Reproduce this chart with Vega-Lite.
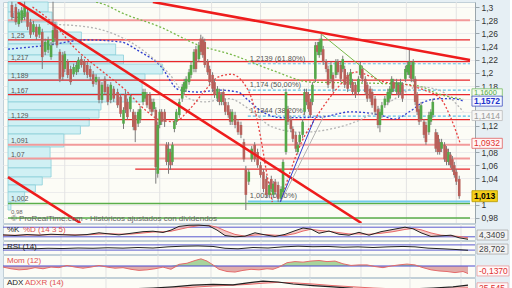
{
"$schema":"https://vega.github.io/schema/vega-lite/v6.json",
"padding":0,
"spacing":1,
"bounds":"flush",
"background":"#e6eff4",
"config":{"view":{"fill":"#fcfcf6","stroke":"#c2d0d8"},"font":"Liberation Sans","text":{"font":"Liberation Sans"}},
"datasets":{
"grid":[{"t":58},{"t":103},{"t":155},{"t":208},{"t":258},{"t":307},{"t":358},{"t":407},{"t":458}],
"vol":[{"hi":1.3076,"lo":1.2924,"vol":41},{"hi":1.2924,"lo":1.2773,"vol":45},{"hi":1.2773,"lo":1.2621,"vol":50},{"hi":1.2621,"lo":1.2439,"vol":75},{"hi":1.2439,"lo":1.2272,"vol":110},{"hi":1.2272,"lo":1.2135,"vol":118},{"hi":1.2135,"lo":1.1984,"vol":158},{"hi":1.1984,"lo":1.1893,"vol":140},{"hi":1.1893,"lo":1.168,"vol":137},{"hi":1.168,"lo":1.1559,"vol":138},{"hi":1.1559,"lo":1.1438,"vol":95},{"hi":1.1438,"lo":1.1316,"vol":93},{"hi":1.1316,"lo":1.1195,"vol":83},{"hi":1.1195,"lo":1.1073,"vol":74},{"hi":1.1073,"lo":1.0876,"vol":57},{"hi":1.0876,"lo":1.0694,"vol":43},{"hi":1.0694,"lo":1.0558,"vol":44},{"hi":1.0558,"lo":1.0421,"vol":44},{"hi":1.0421,"lo":1.03,"vol":35},{"hi":1.03,"lo":1.0194,"vol":28},{"hi":1.0194,"lo":1.0042,"vol":17},{"hi":1.0042,"lo":0.992,"vol":3}],
"vlab":[{"p":1.28,"label":"1,28"},{"p":1.25,"label":"1,25"},{"p":1.217,"label":"1,217"},{"p":1.189,"label":"1,189"},{"p":1.167,"label":"1,167"},{"p":1.129,"label":"1,129"},{"p":1.091,"label":"1,091"},{"p":1.07,"label":"1,07"},{"p":1.002,"label":"1,002"},{"p":0.98,"label":"0,98"}],
"hl":[{"p":1.28,"k":"pink","t0":0,"t1":472},{"p":1.25,"k":"red","t0":0,"t1":472},{"p":1.217,"k":"red","t0":0,"t1":472},{"p":1.189,"k":"red","t0":0,"t1":472},{"p":1.167,"k":"red","t0":0,"t1":472},{"p":1.129,"k":"red","t0":0,"t1":472},{"p":1.091,"k":"pink","t0":0,"t1":472},{"p":1.07,"k":"pink","t0":0,"t1":472},{"p":1.054,"k":"red","t0":130,"t1":472},{"p":1.002,"k":"green","t0":0,"t1":472},{"p":0.98,"k":"green","t0":0,"t1":472}],
"fib":[{"p":1.2139,"label":"1,2139 (61,80%)","k":"dash"},{"p":1.174,"label":"1,174 (50,00%)","k":"dash"},{"p":1.1344,"label":"1,1344 (38,20%)","k":"dash"},{"p":1.005,"label":"1,005 (0,00%)","k":"solid"}],
"ma":[
{"s":"g","t":90,"p":1.3076},{"s":"g","t":100,"p":1.303},{"s":"g","t":115,"p":1.292},{"s":"g","t":155,"p":1.27},{"s":"g","t":195,"p":1.242},{"s":"g","t":230,"p":1.227},{"s":"g","t":270,"p":1.204},{"s":"g","t":310,"p":1.186},{"s":"g","t":350,"p":1.185},{"s":"g","t":400,"p":1.183},{"s":"g","t":420,"p":1.18},{"s":"g","t":440,"p":1.168},{"s":"g","t":465,"p":1.16},
{"s":"b","t":0,"p":1.236},{"s":"b","t":40,"p":1.242},{"s":"b","t":80,"p":1.25},{"s":"b","t":115,"p":1.247},{"s":"b","t":135,"p":1.232},{"s":"b","t":155,"p":1.212},{"s":"b","t":175,"p":1.174},{"s":"b","t":195,"p":1.171},{"s":"b","t":215,"p":1.174},{"s":"b","t":235,"p":1.171},{"s":"b","t":245,"p":1.159},{"s":"b","t":260,"p":1.141},{"s":"b","t":280,"p":1.132},{"s":"b","t":320,"p":1.133},{"s":"b","t":350,"p":1.141},{"s":"b","t":380,"p":1.136},{"s":"b","t":395,"p":1.13},{"s":"b","t":410,"p":1.141},{"s":"b","t":425,"p":1.156},{"s":"b","t":442,"p":1.161},{"s":"b","t":455,"p":1.161},{"s":"b","t":465,"p":1.1572},
{"s":"gr","t":40,"p":1.274},{"s":"gr","t":80,"p":1.27},{"s":"gr","t":110,"p":1.258},{"s":"gr","t":140,"p":1.232},{"s":"gr","t":165,"p":1.198},{"s":"gr","t":185,"p":1.161},{"s":"gr","t":200,"p":1.156},{"s":"gr","t":225,"p":1.161},{"s":"gr","t":250,"p":1.141},{"s":"gr","t":270,"p":1.118},{"s":"gr","t":300,"p":1.11},{"s":"gr","t":330,"p":1.115},{"s":"gr","t":360,"p":1.129},{"s":"gr","t":390,"p":1.156},{"s":"gr","t":420,"p":1.179},{"s":"gr","t":440,"p":1.174},{"s":"gr","t":465,"p":1.1414},
{"s":"r1","t":25,"p":1.3},{"s":"r1","t":45,"p":1.277},{"s":"r1","t":70,"p":1.235},{"s":"r1","t":95,"p":1.204},{"s":"r1","t":120,"p":1.174},{"s":"r1","t":140,"p":1.144},{"s":"r1","t":155,"p":1.129},{"s":"r1","t":170,"p":1.126},{"s":"r1","t":185,"p":1.144},{"s":"r1","t":200,"p":1.171},{"s":"r1","t":215,"p":1.194},{"s":"r1","t":228,"p":1.198},{"s":"r1","t":240,"p":1.186},{"s":"r1","t":250,"p":1.156},{"s":"r1","t":258,"p":1.103},{"s":"r1","t":265,"p":1.042},{"s":"r1","t":270,"p":1.004},
{"s":"r2","t":280,"p":1.0118},{"s":"r2","t":290,"p":1.0573},{"s":"r2","t":300,"p":1.0952},{"s":"r2","t":313,"p":1.1286},{"s":"r2","t":327,"p":1.159},{"s":"r2","t":340,"p":1.183},{"s":"r2","t":355,"p":1.2014},{"s":"r2","t":370,"p":1.195},{"s":"r2","t":385,"p":1.186},{"s":"r2","t":405,"p":1.183},{"s":"r2","t":425,"p":1.174},{"s":"r2","t":442,"p":1.161},{"s":"r2","t":452,"p":1.1331},{"s":"r2","t":462,"p":1.0932}],
"trend":[{"s":"a","t":10,"p":1.3076},{"s":"a","t":361,"p":0.9723},{"s":"b","t":0,"p":1.042},{"s":"b","t":74,"p":0.9723},{"s":"c","t":148,"p":1.3076},{"s":"c","t":472,"p":1.2196}],
"thin":[{"s":"salmon","t":320,"p":1.259},{"s":"salmon","t":383,"p":1.183},{"s":"blue1","t":278,"p":1.004},{"s":"blue1","t":313,"p":1.13},{"s":"blue2","t":280,"p":1.008},{"s":"blue2","t":323,"p":1.136}],
"candles":[
{"t":4,"o":1.303,"h":1.308,"l":1.28,"c":1.285},{"t":8,"o":1.3,"h":1.305,"l":1.273,"c":1.277},{"t":11,"o":1.274,"h":1.297,"l":1.27,"c":1.292},{"t":14,"o":1.28,"h":1.3,"l":1.276,"c":1.295},{"t":17,"o":1.285,"h":1.308,"l":1.28,"c":1.3},{"t":20,"o":1.292,"h":1.297,"l":1.265,"c":1.27},{"t":23,"o":1.277,"h":1.282,"l":1.253,"c":1.258},{"t":26,"o":1.262,"h":1.279,"l":1.258,"c":1.274},{"t":29,"o":1.27,"h":1.274,"l":1.25,"c":1.255},{"t":32,"o":1.258,"h":1.274,"l":1.253,"c":1.27},
{"t":35,"o":1.262,"h":1.267,"l":1.206,"c":1.224},{"t":38,"o":1.232,"h":1.252,"l":1.227,"c":1.247},{"t":41,"o":1.235,"h":1.255,"l":1.23,"c":1.25},{"t":44,"o":1.224,"h":1.247,"l":1.22,"c":1.242},{"t":46,"o":1.247,"h":1.308,"l":1.242,"c":1.265},{"t":48,"o":1.273,"h":1.277,"l":1.247,"c":1.252},{"t":50,"o":1.265,"h":1.27,"l":1.238,"c":1.242},{"t":53,"o":1.232,"h":1.236,"l":1.186,"c":1.191},{"t":56,"o":1.227,"h":1.232,"l":1.189,"c":1.194},{"t":58,"o":1.206,"h":1.233,"l":1.201,"c":1.229},
{"t":61,"o":1.217,"h":1.221,"l":1.192,"c":1.197},{"t":64,"o":1.206,"h":1.211,"l":1.182,"c":1.186},{"t":67,"o":1.198,"h":1.214,"l":1.194,"c":1.209},{"t":70,"o":1.201,"h":1.217,"l":1.197,"c":1.212},{"t":72,"o":1.206,"h":1.224,"l":1.201,"c":1.22},{"t":75,"o":1.221,"h":1.226,"l":1.208,"c":1.212},{"t":78,"o":1.217,"h":1.221,"l":1.197,"c":1.201},{"t":81,"o":1.212,"h":1.217,"l":1.192,"c":1.197},{"t":84,"o":1.206,"h":1.211,"l":1.189,"c":1.194},{"t":87,"o":1.198,"h":1.203,"l":1.179,"c":1.183},
{"t":90,"o":1.186,"h":1.198,"l":1.182,"c":1.194},{"t":93,"o":1.189,"h":1.194,"l":1.154,"c":1.159},{"t":96,"o":1.159,"h":1.186,"l":1.154,"c":1.182},{"t":99,"o":1.191,"h":1.195,"l":1.167,"c":1.171},{"t":102,"o":1.179,"h":1.183,"l":1.151,"c":1.156},{"t":105,"o":1.159,"h":1.186,"l":1.154,"c":1.182},{"t":108,"o":1.176,"h":1.18,"l":1.156,"c":1.161},{"t":112,"o":1.171,"h":1.176,"l":1.147,"c":1.151},{"t":115,"o":1.164,"h":1.168,"l":1.133,"c":1.138},{"t":118,"o":1.123,"h":1.148,"l":1.115,"c":1.144},
{"t":120,"o":1.168,"h":1.173,"l":1.139,"c":1.144},{"t":122,"o":1.156,"h":1.161,"l":1.129,"c":1.133},{"t":125,"o":1.145,"h":1.168,"l":1.141,"c":1.164},{"t":128,"o":1.141,"h":1.145,"l":1.113,"c":1.118},{"t":130,"o":1.136,"h":1.141,"l":1.095,"c":1.113},{"t":133,"o":1.123,"h":1.145,"l":1.118,"c":1.141},{"t":135,"o":1.129,"h":1.15,"l":1.124,"c":1.145},{"t":138,"o":1.156,"h":1.176,"l":1.151,"c":1.171},{"t":140,"o":1.161,"h":1.176,"l":1.156,"c":1.171},{"t":142,"o":1.167,"h":1.171,"l":1.147,"c":1.151},
{"t":145,"o":1.167,"h":1.171,"l":1.141,"c":1.145},{"t":147,"o":1.156,"h":1.161,"l":1.136,"c":1.141},{"t":149,"o":1.145,"h":1.161,"l":1.141,"c":1.156},{"t":151,"o":1.144,"h":1.148,"l":1.032,"c":1.057},{"t":153,"o":1.047,"h":1.126,"l":1.041,"c":1.121},{"t":155,"o":1.121,"h":1.145,"l":1.116,"c":1.141},{"t":157,"o":1.141,"h":1.145,"l":1.121,"c":1.126},{"t":160,"o":1.141,"h":1.145,"l":1.118,"c":1.126},{"t":162,"o":1.091,"h":1.095,"l":1.06,"c":1.065},{"t":164,"o":1.065,"h":1.095,"l":1.047,"c":1.085},
{"t":166,"o":1.08,"h":1.085,"l":1.053,"c":1.06},{"t":168,"o":1.065,"h":1.095,"l":1.06,"c":1.091},{"t":170,"o":1.115,"h":1.13,"l":1.11,"c":1.126},{"t":172,"o":1.126,"h":1.145,"l":1.121,"c":1.141},{"t":175,"o":1.136,"h":1.161,"l":1.132,"c":1.156},{"t":178,"o":1.161,"h":1.183,"l":1.156,"c":1.179},{"t":180,"o":1.171,"h":1.191,"l":1.167,"c":1.186},{"t":182,"o":1.176,"h":1.195,"l":1.171,"c":1.191},{"t":185,"o":1.186,"h":1.206,"l":1.182,"c":1.201},{"t":187,"o":1.197,"h":1.217,"l":1.192,"c":1.212},
{"t":190,"o":1.206,"h":1.236,"l":1.201,"c":1.232},{"t":192,"o":1.236,"h":1.241,"l":1.201,"c":1.206},{"t":195,"o":1.221,"h":1.247,"l":1.217,"c":1.242},{"t":197,"o":1.252,"h":1.258,"l":1.227,"c":1.232},{"t":199,"o":1.25,"h":1.255,"l":1.223,"c":1.227},{"t":201,"o":1.247,"h":1.252,"l":1.208,"c":1.212},{"t":204,"o":1.217,"h":1.221,"l":1.197,"c":1.201},{"t":206,"o":1.206,"h":1.211,"l":1.182,"c":1.186},{"t":209,"o":1.197,"h":1.201,"l":1.171,"c":1.176},{"t":211,"o":1.186,"h":1.191,"l":1.162,"c":1.167},
{"t":214,"o":1.161,"h":1.18,"l":1.156,"c":1.176},{"t":216,"o":1.171,"h":1.176,"l":1.151,"c":1.156},{"t":218,"o":1.156,"h":1.171,"l":1.151,"c":1.167},{"t":220,"o":1.171,"h":1.176,"l":1.151,"c":1.156},{"t":222,"o":1.156,"h":1.161,"l":1.136,"c":1.141},{"t":225,"o":1.151,"h":1.156,"l":1.132,"c":1.136},{"t":227,"o":1.141,"h":1.145,"l":1.121,"c":1.126},{"t":229,"o":1.126,"h":1.145,"l":1.121,"c":1.141},{"t":232,"o":1.136,"h":1.141,"l":1.116,"c":1.121},{"t":235,"o":1.126,"h":1.13,"l":1.106,"c":1.11},
{"t":238,"o":1.121,"h":1.126,"l":1.101,"c":1.106},{"t":241,"o":1.095,"h":1.1,"l":1.065,"c":1.069},{"t":243,"o":1.054,"h":1.059,"l":0.992,"c":1.015},{"t":246,"o":1.035,"h":1.054,"l":1.03,"c":1.05},{"t":249,"o":1.069,"h":1.089,"l":1.065,"c":1.085},{"t":252,"o":1.091,"h":1.095,"l":1.065,"c":1.069},{"t":255,"o":1.08,"h":1.085,"l":1.056,"c":1.06},{"t":258,"o":1.06,"h":1.065,"l":1.041,"c":1.045},{"t":261,"o":1.05,"h":1.054,"l":1.019,"c":1.024},{"t":264,"o":1.039,"h":1.044,"l":1.01,"c":1.015},
{"t":267,"o":1.015,"h":1.035,"l":1.01,"c":1.03},{"t":269,"o":1.039,"h":1.044,"l":1.019,"c":1.024},{"t":271,"o":1.015,"h":1.036,"l":1.01,"c":1.032},{"t":273,"o":1.035,"h":1.039,"l":1.015,"c":1.019},{"t":276,"o":1.03,"h":1.035,"l":1.004,"c":1.009},{"t":279,"o":1.009,"h":1.028,"l":1.005,"c":1.024},{"t":281,"o":1.019,"h":1.069,"l":1.015,"c":1.065},{"t":284,"o":1.08,"h":1.176,"l":1.076,"c":1.171},{"t":286,"o":1.145,"h":1.15,"l":1.121,"c":1.126},{"t":289,"o":1.13,"h":1.135,"l":1.11,"c":1.115},
{"t":291,"o":1.115,"h":1.119,"l":1.095,"c":1.1},{"t":294,"o":1.106,"h":1.11,"l":1.08,"c":1.085},{"t":296,"o":1.08,"h":1.095,"l":1.076,"c":1.091},{"t":298,"o":1.095,"h":1.11,"l":1.091,"c":1.106},{"t":301,"o":1.106,"h":1.13,"l":1.101,"c":1.126},{"t":303,"o":1.141,"h":1.176,"l":1.136,"c":1.171},{"t":305,"o":1.171,"h":1.176,"l":1.151,"c":1.156},{"t":307,"o":1.167,"h":1.171,"l":1.141,"c":1.145},{"t":309,"o":1.156,"h":1.161,"l":1.132,"c":1.136},{"t":311,"o":1.156,"h":1.186,"l":1.151,"c":1.182},
{"t":314,"o":1.191,"h":1.247,"l":1.186,"c":1.242},{"t":316,"o":1.242,"h":1.247,"l":1.227,"c":1.232},{"t":318,"o":1.227,"h":1.252,"l":1.223,"c":1.247},{"t":320,"o":1.232,"h":1.259,"l":1.227,"c":1.252},{"t":322,"o":1.236,"h":1.241,"l":1.212,"c":1.217},{"t":325,"o":1.217,"h":1.221,"l":1.201,"c":1.206},{"t":327,"o":1.206,"h":1.211,"l":1.177,"c":1.182},{"t":330,"o":1.191,"h":1.217,"l":1.186,"c":1.212},{"t":332,"o":1.197,"h":1.201,"l":1.171,"c":1.176},{"t":335,"o":1.197,"h":1.221,"l":1.192,"c":1.217},
{"t":337,"o":1.217,"h":1.221,"l":1.197,"c":1.201},{"t":340,"o":1.212,"h":1.217,"l":1.186,"c":1.191},{"t":342,"o":1.206,"h":1.226,"l":1.201,"c":1.221},{"t":344,"o":1.206,"h":1.211,"l":1.177,"c":1.182},{"t":347,"o":1.197,"h":1.201,"l":1.171,"c":1.176},{"t":350,"o":1.182,"h":1.206,"l":1.177,"c":1.201},{"t":352,"o":1.186,"h":1.191,"l":1.167,"c":1.171},{"t":355,"o":1.182,"h":1.186,"l":1.162,"c":1.167},{"t":358,"o":1.171,"h":1.195,"l":1.167,"c":1.191},{"t":360,"o":1.197,"h":1.217,"l":1.192,"c":1.212},
{"t":362,"o":1.206,"h":1.211,"l":1.186,"c":1.191},{"t":365,"o":1.191,"h":1.195,"l":1.167,"c":1.171},{"t":367,"o":1.182,"h":1.186,"l":1.156,"c":1.161},{"t":370,"o":1.176,"h":1.18,"l":1.156,"c":1.161},{"t":372,"o":1.171,"h":1.176,"l":1.147,"c":1.151},{"t":375,"o":1.161,"h":1.165,"l":1.136,"c":1.141},{"t":378,"o":1.145,"h":1.15,"l":1.116,"c":1.121},{"t":380,"o":1.121,"h":1.145,"l":1.11,"c":1.141},{"t":382,"o":1.136,"h":1.156,"l":1.132,"c":1.151},{"t":385,"o":1.151,"h":1.165,"l":1.147,"c":1.161},
{"t":388,"o":1.156,"h":1.176,"l":1.151,"c":1.171},{"t":390,"o":1.161,"h":1.18,"l":1.156,"c":1.176},{"t":392,"o":1.171,"h":1.195,"l":1.167,"c":1.191},{"t":394,"o":1.186,"h":1.191,"l":1.171,"c":1.176},{"t":397,"o":1.171,"h":1.191,"l":1.167,"c":1.186},{"t":399,"o":1.182,"h":1.186,"l":1.162,"c":1.167},{"t":401,"o":1.171,"h":1.191,"l":1.167,"c":1.186},{"t":403,"o":1.182,"h":1.186,"l":1.156,"c":1.161},{"t":406,"o":1.191,"h":1.211,"l":1.186,"c":1.206},{"t":408,"o":1.201,"h":1.217,"l":1.197,"c":1.212},
{"t":410,"o":1.197,"h":1.235,"l":1.192,"c":1.217},{"t":412,"o":1.212,"h":1.217,"l":1.186,"c":1.191},{"t":414,"o":1.191,"h":1.221,"l":1.186,"c":1.217},{"t":416,"o":1.191,"h":1.195,"l":1.151,"c":1.156},{"t":418,"o":1.167,"h":1.171,"l":1.136,"c":1.141},{"t":420,"o":1.145,"h":1.15,"l":1.121,"c":1.126},{"t":422,"o":1.13,"h":1.156,"l":1.126,"c":1.151},{"t":425,"o":1.126,"h":1.13,"l":1.101,"c":1.106},{"t":427,"o":1.121,"h":1.126,"l":1.091,"c":1.095},{"t":430,"o":1.11,"h":1.141,"l":1.106,"c":1.136},
{"t":432,"o":1.126,"h":1.145,"l":1.121,"c":1.141},{"t":434,"o":1.136,"h":1.161,"l":1.132,"c":1.156},{"t":437,"o":1.11,"h":1.115,"l":1.08,"c":1.085},{"t":439,"o":1.106,"h":1.11,"l":1.076,"c":1.08},{"t":441,"o":1.095,"h":1.1,"l":1.076,"c":1.08},{"t":443,"o":1.085,"h":1.1,"l":1.08,"c":1.095},{"t":446,"o":1.091,"h":1.095,"l":1.065,"c":1.069},{"t":448,"o":1.085,"h":1.089,"l":1.06,"c":1.065},{"t":450,"o":1.065,"h":1.085,"l":1.06,"c":1.08},{"t":452,"o":1.076,"h":1.08,"l":1.056,"c":1.06},
{"t":454,"o":1.069,"h":1.074,"l":1.05,"c":1.054},{"t":456,"o":1.06,"h":1.065,"l":1.041,"c":1.045},{"t":458,"o":1.05,"h":1.054,"l":1.03,"c":1.035},{"t":461,"o":1.039,"h":1.044,"l":1.009,"c":1.013}],
"kd":[{"t":0,"k":32,"d":30},{"t":12,"k":28,"d":30},{"t":24,"k":34,"d":31},{"t":36,"k":30,"d":31},{"t":48,"k":36,"d":33},{"t":60,"k":33,"d":33},{"t":72,"k":30,"d":32},{"t":84,"k":34,"d":32},{"t":96,"k":45,"d":37},{"t":106,"k":38,"d":39},{"t":116,"k":32,"d":37},{"t":128,"k":42,"d":37},{"t":140,"k":52,"d":44},{"t":150,"k":55,"d":50},{"t":160,"k":47,"d":51},{"t":168,"k":62,"d":55},{"t":176,"k":85,"d":66},{"t":186,"k":92,"d":80},{"t":196,"k":93,"d":90},{"t":206,"k":88,"d":91},{"t":214,"k":62,"d":80},{"t":222,"k":28,"d":58},{"t":232,"k":20,"d":35},{"t":242,"k":24,"d":24},{"t":252,"k":45,"d":31},{"t":262,"k":32,"d":34},{"t":272,"k":22,"d":30},{"t":282,"k":35,"d":28},{"t":292,"k":58,"d":40},{"t":300,"k":75,"d":56},{"t":308,"k":68,"d":67},{"t":316,"k":42,"d":60},{"t":326,"k":56,"d":54},{"t":336,"k":36,"d":46},{"t":346,"k":30,"d":38},{"t":356,"k":48,"d":38},{"t":366,"k":30,"d":36},{"t":378,"k":52,"d":42},{"t":390,"k":66,"d":52},{"t":402,"k":80,"d":66},{"t":410,"k":70,"d":72},{"t":418,"k":45,"d":64},{"t":428,"k":22,"d":44},{"t":438,"k":26,"d":30},{"t":448,"k":30,"d":26},{"t":456,"k":14,"d":22},{"t":465,"k":4.34,"d":14}],
"rsi":[{"t":0,"r":42},{"t":15,"r":45},{"t":30,"r":40},{"t":45,"r":44},{"t":60,"r":42},{"t":75,"r":46},{"t":90,"r":44},{"t":105,"r":48},{"t":120,"r":45},{"t":135,"r":50},{"t":150,"r":46},{"t":165,"r":55},{"t":180,"r":60},{"t":195,"r":62},{"t":210,"r":58},{"t":222,"r":44},{"t":235,"r":40},{"t":250,"r":50},{"t":265,"r":46},{"t":280,"r":55},{"t":295,"r":60},{"t":310,"r":56},{"t":325,"r":58},{"t":340,"r":52},{"t":355,"r":55},{"t":370,"r":50},{"t":385,"r":55},{"t":400,"r":58},{"t":412,"r":55},{"t":425,"r":45},{"t":440,"r":40},{"t":452,"r":35},{"t":465,"r":28.7}],
"mom":[{"t":0,"m":-0.02},{"t":8,"m":-0.05},{"t":16,"m":-0.07},{"t":24,"m":-0.06},{"t":32,"m":-0.03},{"t":40,"m":-0.05},{"t":48,"m":-0.02},{"t":56,"m":-0.03},{"t":64,"m":0.01},{"t":72,"m":-0.02},{"t":80,"m":-0.04},{"t":88,"m":-0.02},{"t":96,"m":0.01},{"t":104,"m":-0.02},{"t":112,"m":-0.04},{"t":120,"m":-0.03},{"t":128,"m":-0.06},{"t":136,"m":-0.08},{"t":144,"m":-0.07},{"t":152,"m":-0.05},{"t":160,"m":-0.02},{"t":168,"m":-0.06},{"t":176,"m":0.03},{"t":184,"m":0.05},{"t":192,"m":0.1},{"t":198,"m":0.13},{"t":204,"m":0.09},{"t":210,"m":0.02},{"t":216,"m":-0.06},{"t":224,"m":-0.1},{"t":232,"m":-0.11},{"t":240,"m":-0.08},{"t":248,"m":-0.06},{"t":256,"m":-0.07},{"t":264,"m":-0.05},{"t":270,"m":-0.06},{"t":276,"m":-0.02},{"t":284,"m":0.06},{"t":292,"m":0.08},{"t":300,"m":0.07},{"t":308,"m":0.09},{"t":316,"m":0.1},{"t":324,"m":0.08},{"t":332,"m":0.09},{"t":340,"m":0.04},{"t":348,"m":0.01},{"t":356,"m":0.02},{"t":364,"m":0.02},{"t":372,"m":-0.01},{"t":380,"m":-0.03},{"t":388,"m":0},{"t":396,"m":0.02},{"t":404,"m":0.035},{"t":412,"m":0.02},{"t":420,"m":-0.03},{"t":428,"m":-0.07},{"t":436,"m":-0.09},{"t":444,"m":-0.1},{"t":452,"m":-0.12},{"t":460,"m":-0.1},{"t":465,"m":-0.137}],
"adx":[{"t":0,"a":20,"ar":22},{"t":40,"a":18,"ar":20},{"t":80,"a":20,"ar":19},{"t":120,"a":22,"ar":20},{"t":150,"a":25,"ar":22},{"t":170,"a":28,"ar":24},{"t":190,"a":32,"ar":27},{"t":210,"a":34,"ar":30},{"t":230,"a":33,"ar":32},{"t":245,"a":38,"ar":34},{"t":260,"a":42,"ar":37},{"t":275,"a":40,"ar":39},{"t":290,"a":35,"ar":38},{"t":310,"a":31,"ar":35},{"t":330,"a":28,"ar":31},{"t":350,"a":24,"ar":28},{"t":370,"a":22,"ar":25},{"t":390,"a":22,"ar":23},{"t":410,"a":23,"ar":22},{"t":430,"a":25,"ar":23},{"t":450,"a":28,"ar":24},{"t":465,"a":32,"ar":25.5}]
},
"vconcat":[
{"width":472,"height":221,
"resolve":{"axis":{"y":"independent","x":"independent"}},
"layer":[
{"data":{"name":"grid"},"mark":{"type":"rule","color":"#e3e3e3"},"encoding":{"x":{"field":"t","type":"quantitative","scale":{"domain":[0,472]},"axis":null}}},
{"data":{"name":"vol"},"mark":{"type":"rect","fill":"#d0f0f4","stroke":"#8ccfd9","strokeWidth":0.8},"encoding":{"x":{"field":"vol","type":"quantitative","scale":{"domain":[0,472]},"axis":null},"x2":{"datum":0},"y":{"field":"hi","type":"quantitative","scale":{"domain":[0.9723,1.3076],"nice":false,"zero":false},"axis":null},"y2":{"field":"lo"}}},
{"data":{"name":"vlab"},"transform":[{"filter":"datum.p>0.99"}],"mark":{"type":"text","align":"left","baseline":"bottom","dy":-1,"fontSize":7,"color":"#555"},"encoding":{"x":{"datum":3,"type":"quantitative","scale":{"domain":[0,472]},"axis":null},"y":{"field":"p","type":"quantitative","scale":{"domain":[0.9723,1.3076],"nice":false,"zero":false},"axis":null},"text":{"field":"label","type":"nominal"}}},
{"data":{"name":"vlab"},"transform":[{"filter":"datum.p<0.99"}],"mark":{"type":"text","align":"left","baseline":"bottom","dy":-3,"fontSize":6,"color":"#666"},"encoding":{"x":{"datum":3,"type":"quantitative","scale":{"domain":[0,472]},"axis":null},"y":{"field":"p","type":"quantitative","scale":{"domain":[0.9723,1.3076],"nice":false,"zero":false},"axis":null},"text":{"field":"label","type":"nominal"}}},
{"data":{"name":"hl"},"transform":[{"filter":"datum.k=='red'"}],"mark":{"type":"rule","color":"#e8262a","strokeWidth":1.2},"encoding":{"x":{"field":"t0","type":"quantitative","scale":{"domain":[0,472]},"axis":null},"x2":{"field":"t1"},"y":{"field":"p","type":"quantitative","scale":{"domain":[0.9723,1.3076],"nice":false,"zero":false},"axis":null}}},
{"data":{"name":"hl"},"transform":[{"filter":"datum.k=='pink'"}],"mark":{"type":"rule","color":"#f29a9a","strokeWidth":2},"encoding":{"x":{"field":"t0","type":"quantitative","scale":{"domain":[0,472]},"axis":null},"x2":{"field":"t1"},"y":{"field":"p","type":"quantitative","scale":{"domain":[0.9723,1.3076],"nice":false,"zero":false},"axis":null}}},
{"data":{"name":"hl"},"transform":[{"filter":"datum.k=='green'"}],"mark":{"type":"rule","color":"#5aae4a","strokeWidth":1.5},"encoding":{"x":{"field":"t0","type":"quantitative","scale":{"domain":[0,472]},"axis":null},"x2":{"field":"t1"},"y":{"field":"p","type":"quantitative","scale":{"domain":[0.9723,1.3076],"nice":false,"zero":false},"axis":null}}},
{"data":{"name":"fib"},"transform":[{"filter":"datum.k=='dash'"}],"mark":{"type":"rule","color":"#5bbde6","strokeWidth":1.2,"strokeDash":[3,2]},"encoding":{"x":{"datum":245,"type":"quantitative","scale":{"domain":[0,472]},"axis":null},"x2":{"datum":472},"y":{"field":"p","type":"quantitative","scale":{"domain":[0.9723,1.3076],"nice":false,"zero":false},"axis":null}}},
{"data":{"name":"fib"},"transform":[{"filter":"datum.k=='solid'"}],"mark":{"type":"rule","color":"#74cbee","strokeWidth":2},"encoding":{"x":{"datum":245,"type":"quantitative","scale":{"domain":[0,472]},"axis":null},"x2":{"datum":472},"y":{"field":"p","type":"quantitative","scale":{"domain":[0.9723,1.3076],"nice":false,"zero":false},"axis":null}}},
{"data":{"name":"fib"},"mark":{"type":"text","align":"left","baseline":"bottom","dy":-1,"fontSize":7.5,"color":"#555"},"encoding":{"x":{"datum":247,"type":"quantitative","scale":{"domain":[0,472]},"axis":null},"y":{"field":"p","type":"quantitative","scale":{"domain":[0.9723,1.3076],"nice":false,"zero":false},"axis":null},"text":{"field":"label","type":"nominal"}}},
{"data":{"name":"ma"},"mark":{"type":"line","strokeWidth":1.3,"strokeDash":[2,2],"clip":true,"interpolate":"monotone"},"encoding":{"x":{"field":"t","type":"quantitative","scale":{"domain":[0,472]},"axis":null},"y":{"field":"p","type":"quantitative","scale":{"domain":[0.9723,1.3076],"nice":false,"zero":false},"axis":null},"color":{"field":"s","type":"nominal","scale":{"domain":["g","b","gr","r1","r2"],"range":["#78b84a","#2f3fcf","#b4b4b4","#e84040","#e84040"]},"legend":null}}},
{"data":{"name":"candles"},"mark":{"type":"rule","color":"#7a7a7a","strokeWidth":1},"encoding":{"x":{"field":"t","type":"quantitative","scale":{"domain":[0,472]},"axis":null},"y":{"field":"l","type":"quantitative","scale":{"domain":[0.9723,1.3076],"nice":false,"zero":false},"axis":null},"y2":{"field":"h"}}},
{"data":{"name":"candles"},"mark":{"type":"bar","size":2.6},"encoding":{"x":{"field":"t","type":"quantitative","scale":{"domain":[0,472]},"axis":null},"y":{"field":"o","type":"quantitative","scale":{"domain":[0.9723,1.3076],"nice":false,"zero":false},"axis":{"orient":"right","values":[0.98,1,1.02,1.04,1.06,1.08,1.1,1.12,1.14,1.16,1.18,1.2,1.22,1.24,1.26,1.28,1.3],"labelExpr":"(datum.value==1.16||datum.value==1.14||datum.value==1.1||datum.value==1.02) ? '' : replace(format(datum.value,'.2~f'),'.',',')","title":null,"grid":true,"gridColor":"#ececec","domainColor":"#9aa6ac","tickColor":"#9aa6ac","tickSize":4,"labelFontSize":8.5,"labelColor":"#333","labelPadding":2,"labelFont":"Liberation Sans"}},"y2":{"field":"c"},"color":{"condition":{"test":"datum.c>=datum.o","value":"#55a84a"},"value":"#b8605a"}}},
{"data":{"name":"trend"},"mark":{"type":"line","color":"#ee1c1c","strokeWidth":2.6,"clip":true},"encoding":{"x":{"field":"t","type":"quantitative","scale":{"domain":[0,472]},"axis":null},"y":{"field":"p","type":"quantitative","scale":{"domain":[0.9723,1.3076],"nice":false,"zero":false},"axis":null},"detail":{"field":"s","type":"nominal"}}},
{"data":{"name":"thin"},"mark":{"type":"line","strokeWidth":1,"clip":true},"encoding":{"x":{"field":"t","type":"quantitative","scale":{"domain":[0,472]},"axis":null},"y":{"field":"p","type":"quantitative","scale":{"domain":[0.9723,1.3076],"nice":false,"zero":false},"axis":null},"color":{"field":"s","type":"nominal","scale":{"domain":["salmon","blue1","blue2"],"range":["#f08a8a","#3b4fd6","#3b4fd6"]},"legend":null}}},
{"data":{"values":[{"label":"© ProRealTime.com - Históricos ajustados con dividendos"}]},"mark":{"type":"text","align":"left","baseline":"middle","dy":1,"fontSize":8,"color":"#666"},"encoding":{"x":{"datum":3,"type":"quantitative","scale":{"domain":[0,472]},"axis":null},"y":{"datum":0.98,"type":"quantitative","scale":{"domain":[0.9723,1.3076],"nice":false,"zero":false},"axis":null},"text":{"field":"label","type":"nominal"}}},
{"data":{"values":[{"p":1.16,"label":"1,1600"}]},"mark":{"type":"rect","fill":"#f2fbef","stroke":"#77bb66","strokeWidth":0.8,"yOffset":-10.5,"y2Offset":-2},"encoding":{"x":{"datum":474,"type":"quantitative","scale":{"domain":[0,472]},"axis":null},"x2":{"datum":505},"y":{"field":"p","type":"quantitative","scale":{"domain":[0.9723,1.3076],"nice":false,"zero":false},"axis":null},"y2":{"field":"p"}}},
{"data":{"values":[{"p":1.16,"label":"1,1600"}]},"mark":{"type":"text","align":"left","baseline":"middle","dy":-6,"fontSize":7.5,"color":"#55aa44"},"encoding":{"x":{"datum":476,"type":"quantitative","scale":{"domain":[0,472]},"axis":null},"y":{"field":"p","type":"quantitative","scale":{"domain":[0.9723,1.3076],"nice":false,"zero":false},"axis":null},"text":{"field":"label","type":"nominal"}}},
{"data":{"values":[{"p":1.1414,"label":"1,1414"}]},"mark":{"type":"rect","fill":"#f6f6f6","stroke":"#bbbbbb","strokeWidth":0.8,"yOffset":-1,"y2Offset":9},"encoding":{"x":{"datum":474,"type":"quantitative","scale":{"domain":[0,472]},"axis":null},"x2":{"datum":505},"y":{"field":"p","type":"quantitative","scale":{"domain":[0.9723,1.3076],"nice":false,"zero":false},"axis":null},"y2":{"field":"p"}}},
{"data":{"values":[{"p":1.1414,"label":"1,1414"}]},"mark":{"type":"text","align":"left","baseline":"middle","dy":4,"fontSize":8.5,"color":"#999"},"encoding":{"x":{"datum":476,"type":"quantitative","scale":{"domain":[0,472]},"axis":null},"y":{"field":"p","type":"quantitative","scale":{"domain":[0.9723,1.3076],"nice":false,"zero":false},"axis":null},"text":{"field":"label","type":"nominal"}}},
{"data":{"values":[{"p":1.1572,"label":"1,1572"}]},"mark":{"type":"rect","fill":"#f4f6ff","stroke":"#4050c0","strokeWidth":0.8,"yOffset":-5,"y2Offset":5},"encoding":{"x":{"datum":474,"type":"quantitative","scale":{"domain":[0,472]},"axis":null},"x2":{"datum":505},"y":{"field":"p","type":"quantitative","scale":{"domain":[0.9723,1.3076],"nice":false,"zero":false},"axis":null},"y2":{"field":"p"}}},
{"data":{"values":[{"p":1.1572,"label":"1,1572"}]},"mark":{"type":"text","align":"left","baseline":"middle","fontSize":8.5,"fontWeight":"bold","color":"#2233cc"},"encoding":{"x":{"datum":476,"type":"quantitative","scale":{"domain":[0,472]},"axis":null},"y":{"field":"p","type":"quantitative","scale":{"domain":[0.9723,1.3076],"nice":false,"zero":false},"axis":null},"text":{"field":"label","type":"nominal"}}},
{"data":{"values":[{"p":1.0932,"label":"1,0932"}]},"mark":{"type":"rect","fill":"#fff6f6","stroke":"#e06060","strokeWidth":0.8,"yOffset":-5,"y2Offset":5},"encoding":{"x":{"datum":474,"type":"quantitative","scale":{"domain":[0,472]},"axis":null},"x2":{"datum":505},"y":{"field":"p","type":"quantitative","scale":{"domain":[0.9723,1.3076],"nice":false,"zero":false},"axis":null},"y2":{"field":"p"}}},
{"data":{"values":[{"p":1.0932,"label":"1,0932"}]},"mark":{"type":"text","align":"left","baseline":"middle","fontSize":8.5,"color":"#e03030"},"encoding":{"x":{"datum":476,"type":"quantitative","scale":{"domain":[0,472]},"axis":null},"y":{"field":"p","type":"quantitative","scale":{"domain":[0.9723,1.3076],"nice":false,"zero":false},"axis":null},"text":{"field":"label","type":"nominal"}}},
{"data":{"values":[{"p":1.013,"label":"1,013"}]},"mark":{"type":"rect","fill":"#f5cf1a","stroke":"#b89a00","strokeWidth":0.8,"yOffset":-5.5,"y2Offset":5.5},"encoding":{"x":{"datum":474,"type":"quantitative","scale":{"domain":[0,472]},"axis":null},"x2":{"datum":500},"y":{"field":"p","type":"quantitative","scale":{"domain":[0.9723,1.3076],"nice":false,"zero":false},"axis":null},"y2":{"field":"p"}}},
{"data":{"values":[{"p":1.013,"label":"1,013"}]},"mark":{"type":"text","align":"left","baseline":"middle","fontSize":8.5,"fontWeight":"bold","color":"#000"},"encoding":{"x":{"datum":476,"type":"quantitative","scale":{"domain":[0,472]},"axis":null},"y":{"field":"p","type":"quantitative","scale":{"domain":[0.9723,1.3076],"nice":false,"zero":false},"axis":null},"text":{"field":"label","type":"nominal"}}}
]},
{"width":472,"height":16,
"layer":[
{"data":{"name":"grid"},"mark":{"type":"rule","color":"#e3e3e3"},"encoding":{"x":{"field":"t","type":"quantitative","scale":{"domain":[0,472]},"axis":null}}},
{"data":{"values":[{"lv":80},{"lv":20}]},"mark":{"type":"rule","color":"#5a5ad0","strokeWidth":1},"encoding":{"y":{"field":"lv","type":"quantitative","scale":{"domain":[0,100],"nice":false},"axis":null}}},
{"data":{"name":"kd"},"mark":{"type":"area","color":"#f0b4b4","opacity":0.7},"encoding":{"x":{"field":"t","type":"quantitative","scale":{"domain":[0,472]},"axis":null},"y":{"field":"k","type":"quantitative","scale":{"domain":[0,100],"nice":false},"axis":null},"y2":{"field":"d"}}},
{"data":{"name":"kd"},"mark":{"type":"line","color":"#e86a6a","strokeWidth":1},"encoding":{"x":{"field":"t","type":"quantitative","scale":{"domain":[0,472]},"axis":null},"y":{"field":"d","type":"quantitative","scale":{"domain":[0,100],"nice":false},"axis":null}}},
{"data":{"name":"kd"},"mark":{"type":"line","color":"#222","strokeWidth":1},"encoding":{"x":{"field":"t","type":"quantitative","scale":{"domain":[0,472]},"axis":null},"y":{"field":"k","type":"quantitative","scale":{"domain":[0,100],"nice":false},"axis":null}}},
{"data":{"values":[{"label":"%K","v":62}]},"mark":{"type":"text","align":"left","baseline":"middle","fontSize":8,"color":"#222"},"encoding":{"x":{"datum":4,"type":"quantitative","scale":{"domain":[0,472]},"axis":null},"y":{"field":"v","type":"quantitative","scale":{"domain":[0,100],"nice":false},"axis":null},"text":{"field":"label","type":"nominal"}}},
{"data":{"values":[{"label":"%D (14 3 5)","v":62}]},"mark":{"type":"text","align":"left","baseline":"middle","fontSize":8,"color":"#e05050"},"encoding":{"x":{"datum":20,"type":"quantitative","scale":{"domain":[0,472]},"axis":null},"y":{"field":"v","type":"quantitative","scale":{"domain":[0,100],"nice":false},"axis":null},"text":{"field":"label","type":"nominal"}}},
{"data":{"values":[{"v":31}]},"mark":{"type":"rect","fill":"#f2f2f2","stroke":"#aaaaaa","strokeWidth":0.8,"yOffset":-5,"y2Offset":5},"encoding":{"x":{"datum":474,"type":"quantitative","scale":{"domain":[0,472]},"axis":null},"x2":{"datum":505},"y":{"field":"v","type":"quantitative","scale":{"domain":[0,100],"nice":false},"axis":null},"y2":{"field":"v"}}},
{"data":{"values":[{"v":31,"label":"4,3409"}]},"mark":{"type":"text","align":"left","baseline":"middle","fontSize":8.5,"color":"#444"},"encoding":{"x":{"datum":476,"type":"quantitative","scale":{"domain":[0,472]},"axis":null},"y":{"field":"v","type":"quantitative","scale":{"domain":[0,100],"nice":false},"axis":null},"text":{"field":"label","type":"nominal"}}}
]},
{"width":472,"height":13,
"layer":[
{"data":{"name":"grid"},"mark":{"type":"rule","color":"#e3e3e3"},"encoding":{"x":{"field":"t","type":"quantitative","scale":{"domain":[0,472]},"axis":null}}},
{"data":{"values":[{"lv":70},{"lv":30}]},"mark":{"type":"rule","color":"#5a5ad0","strokeWidth":1},"encoding":{"y":{"field":"lv","type":"quantitative","scale":{"domain":[0,100],"nice":false},"axis":null}}},
{"data":{"name":"rsi"},"mark":{"type":"line","color":"#222","strokeWidth":1},"encoding":{"x":{"field":"t","type":"quantitative","scale":{"domain":[0,472]},"axis":null},"y":{"field":"r","type":"quantitative","scale":{"domain":[0,100],"nice":false},"axis":null}}},
{"data":{"values":[{"label":"RSI (14)","v":54}]},"mark":{"type":"text","align":"left","baseline":"middle","fontSize":8,"color":"#222"},"encoding":{"x":{"datum":4,"type":"quantitative","scale":{"domain":[0,472]},"axis":null},"y":{"field":"v","type":"quantitative","scale":{"domain":[0,100],"nice":false},"axis":null},"text":{"field":"label","type":"nominal"}}},
{"data":{"values":[{"v":38}]},"mark":{"type":"rect","fill":"#f2f2f2","stroke":"#aaaaaa","strokeWidth":0.8,"yOffset":-5,"y2Offset":5},"encoding":{"x":{"datum":474,"type":"quantitative","scale":{"domain":[0,472]},"axis":null},"x2":{"datum":505},"y":{"field":"v","type":"quantitative","scale":{"domain":[0,100],"nice":false},"axis":null},"y2":{"field":"v"}}},
{"data":{"values":[{"v":38,"label":"28,702"}]},"mark":{"type":"text","align":"left","baseline":"middle","fontSize":8.5,"color":"#444"},"encoding":{"x":{"datum":476,"type":"quantitative","scale":{"domain":[0,472]},"axis":null},"y":{"field":"v","type":"quantitative","scale":{"domain":[0,100],"nice":false},"axis":null},"text":{"field":"label","type":"nominal"}}}
]},
{"width":472,"height":22,
"resolve":{"scale":{"y":"independent"}},
"layer":[
{"data":{"name":"grid"},"mark":{"type":"rule","color":"#e3e3e3"},"encoding":{"x":{"field":"t","type":"quantitative","scale":{"domain":[0,472]},"axis":null}}},
{"data":{"name":"mom"},"mark":{"type":"area","color":"#a3d296","opacity":0.95},"encoding":{"x":{"field":"t","type":"quantitative","scale":{"domain":[0,472]},"axis":null},"y":{"field":"m","type":"quantitative","scale":{"domain":[0,0.2],"range":[11,0],"clamp":true,"nice":false,"zero":false},"axis":null},"y2":{"datum":0}}},
{"data":{"name":"mom"},"mark":{"type":"area","color":"#dfa8a4","opacity":0.95},"encoding":{"x":{"field":"t","type":"quantitative","scale":{"domain":[0,472]},"axis":null},"y":{"field":"m","type":"quantitative","scale":{"domain":[-0.2,0],"range":[22,11],"clamp":true,"nice":false,"zero":false},"axis":null},"y2":{"datum":0}}},
{"data":{"values":[{"lv":0}]},"mark":{"type":"rule","color":"#4a4ad0","strokeWidth":1},"encoding":{"y":{"field":"lv","type":"quantitative","scale":{"domain":[-0.2,0.2],"nice":false},"axis":null}}},
{"data":{"name":"mom"},"mark":{"type":"line","color":"#e46a6a","strokeWidth":1},"encoding":{"x":{"field":"t","type":"quantitative","scale":{"domain":[0,472]},"axis":null},"y":{"field":"m","type":"quantitative","scale":{"domain":[-0.2,0.2],"nice":false},"axis":null}}},
{"data":{"values":[{"label":"Mom (12)","v":0.09}]},"mark":{"type":"text","align":"left","baseline":"middle","fontSize":8,"color":"#e05050"},"encoding":{"x":{"datum":4,"type":"quantitative","scale":{"domain":[0,472]},"axis":null},"y":{"field":"v","type":"quantitative","scale":{"domain":[-0.2,0.2],"nice":false},"axis":null},"text":{"field":"label","type":"nominal"}}},
{"data":{"values":[{"v":-0.09}]},"mark":{"type":"rect","fill":"#fff8f8","stroke":"#e89a9a","strokeWidth":0.8,"yOffset":-5,"y2Offset":5},"encoding":{"x":{"datum":474,"type":"quantitative","scale":{"domain":[0,472]},"axis":null},"x2":{"datum":506},"y":{"field":"v","type":"quantitative","scale":{"domain":[-0.2,0.2],"nice":false},"axis":null},"y2":{"field":"v"}}},
{"data":{"values":[{"v":-0.09,"label":"-0,1370"}]},"mark":{"type":"text","align":"left","baseline":"middle","fontSize":8.5,"color":"#e03030"},"encoding":{"x":{"datum":476,"type":"quantitative","scale":{"domain":[0,472]},"axis":null},"y":{"field":"v","type":"quantitative","scale":{"domain":[-0.2,0.2],"nice":false},"axis":null},"text":{"field":"label","type":"nominal"}}}
]},
{"width":472,"height":20,
"layer":[
{"data":{"name":"grid"},"mark":{"type":"rule","color":"#e3e3e3"},"encoding":{"x":{"field":"t","type":"quantitative","scale":{"domain":[0,472]},"axis":null}}},
{"data":{"name":"adx"},"mark":{"type":"area","color":"#eebcbc","opacity":0.7},"encoding":{"x":{"field":"t","type":"quantitative","scale":{"domain":[0,472]},"axis":null},"y":{"field":"a","type":"quantitative","scale":{"domain":[0,50],"nice":false},"axis":null},"y2":{"field":"ar"}}},
{"data":{"name":"adx"},"mark":{"type":"line","color":"#e86a6a","strokeWidth":1},"encoding":{"x":{"field":"t","type":"quantitative","scale":{"domain":[0,472]},"axis":null},"y":{"field":"ar","type":"quantitative","scale":{"domain":[0,50],"nice":false},"axis":null}}},
{"data":{"name":"adx"},"mark":{"type":"line","color":"#222","strokeWidth":1.2},"encoding":{"x":{"field":"t","type":"quantitative","scale":{"domain":[0,472]},"axis":null},"y":{"field":"a","type":"quantitative","scale":{"domain":[0,50],"nice":false},"axis":null}}},
{"data":{"values":[{"label":"ADX","v":37.5}]},"mark":{"type":"text","align":"left","baseline":"middle","fontSize":8,"color":"#222"},"encoding":{"x":{"datum":4,"type":"quantitative","scale":{"domain":[0,472]},"axis":null},"y":{"field":"v","type":"quantitative","scale":{"domain":[0,50],"nice":false},"axis":null},"text":{"field":"label","type":"nominal"}}},
{"data":{"values":[{"label":"ADXR (14)","v":37.5}]},"mark":{"type":"text","align":"left","baseline":"middle","fontSize":8,"color":"#e05050"},"encoding":{"x":{"datum":22,"type":"quantitative","scale":{"domain":[0,472]},"axis":null},"y":{"field":"v","type":"quantitative","scale":{"domain":[0,50],"nice":false},"axis":null},"text":{"field":"label","type":"nominal"}}},
{"data":{"values":[{"v":25.5}]},"mark":{"type":"rect","fill":"#fff8f8","stroke":"#e89a9a","strokeWidth":0.8,"yOffset":-5,"y2Offset":5},"encoding":{"x":{"datum":474,"type":"quantitative","scale":{"domain":[0,472]},"axis":null},"x2":{"datum":505},"y":{"field":"v","type":"quantitative","scale":{"domain":[0,50],"nice":false},"axis":null},"y2":{"field":"v"}}},
{"data":{"values":[{"v":25.5,"label":"25,545"}]},"mark":{"type":"text","align":"left","baseline":"middle","fontSize":8.5,"color":"#e03030"},"encoding":{"x":{"datum":476,"type":"quantitative","scale":{"domain":[0,472]},"axis":null},"y":{"field":"v","type":"quantitative","scale":{"domain":[0,50],"nice":false},"axis":null},"text":{"field":"label","type":"nominal"}}}
]}
]
}
